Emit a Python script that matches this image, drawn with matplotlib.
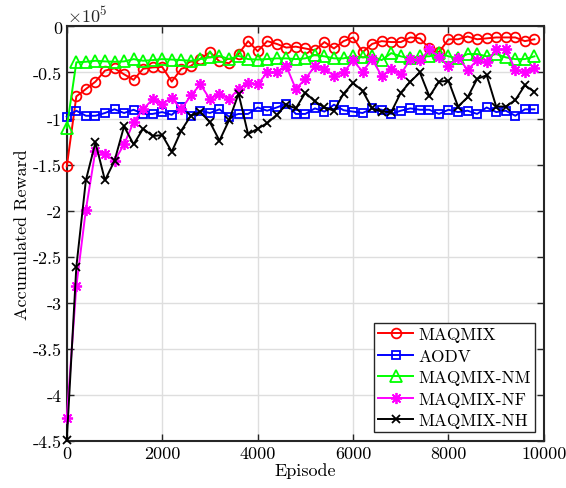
import numpy as np
from matplotlib import pyplot as plt
from matplotlib.ticker import FuncFormatter

plt.rcParams['font.family'] = ['cmr10', 'DejaVu Serif']
plt.rcParams['mathtext.fontset'] = 'cm'
plt.rcParams['axes.unicode_minus'] = False

episodes = np.arange(0, 10000, 200)

# values in units of 1e5
maqmix = [-1.52, -0.76, -0.68, -0.60, -0.48, -0.455, -0.52, -0.58, -0.46, -0.445,
          -0.44, -0.60, -0.46, -0.43, -0.35, -0.28, -0.38, -0.40, -0.30, -0.16,
          -0.27, -0.16, -0.19, -0.23, -0.22, -0.24, -0.26, -0.17, -0.24, -0.16,
          -0.12, -0.28, -0.19, -0.16, -0.17, -0.17, -0.12, -0.13, -0.24, -0.28,
          -0.14, -0.14, -0.11, -0.14, -0.13, -0.12, -0.12, -0.12, -0.16, -0.14]
aodv = [-0.98, -0.915, -0.97, -0.97, -0.94, -0.90, -0.94, -0.905, -0.95, -0.95,
        -0.93, -0.96, -0.87, -0.97, -0.915, -0.94, -0.90, -0.98, -0.95, -0.95,
        -0.88, -0.915, -0.88, -0.84, -0.95, -0.95, -0.89, -0.925, -0.85, -0.91,
        -0.925, -0.94, -0.89, -0.905, -0.95, -0.915, -0.89, -0.905, -0.905, -0.95,
        -0.905, -0.93, -0.915, -0.95, -0.88, -0.93, -0.915, -0.97, -0.90, -0.90]
maqmix_nm = [-1.10, -0.39, -0.384, -0.373, -0.38, -0.384, -0.38, -0.355, -0.373, -0.366,
             -0.355, -0.36, -0.366, -0.373, -0.355, -0.336, -0.32, -0.355, -0.32, -0.355,
             -0.36, -0.355, -0.347, -0.347, -0.355, -0.347, -0.31, -0.325, -0.347, -0.347,
             -0.325, -0.336, -0.325, -0.366, -0.29, -0.325, -0.347, -0.325, -0.325, -0.29,
             -0.325, -0.347, -0.30, -0.30, -0.325, -0.30, -0.336, -0.355, -0.355, -0.325]
maqmix_nf = [-4.245, -2.82, -1.99, -1.35, -1.385, -1.46, -1.28, -1.04, -0.90, -0.79,
             -0.84, -0.78, -0.90, -0.75, -0.63, -0.79, -0.73, -0.79, -0.68, -0.61,
             -0.63, -0.50, -0.50, -0.43, -0.68, -0.57, -0.43, -0.46, -0.535, -0.50,
             -0.37, -0.49, -0.355, -0.54, -0.46, -0.52, -0.355, -0.37, -0.25, -0.33,
             -0.43, -0.34, -0.47, -0.37, -0.39, -0.25, -0.25, -0.47, -0.50, -0.455]
maqmix_nh = [-4.49, -2.61, -1.67, -1.26, -1.67, -1.46, -1.085, -1.28, -1.11, -1.19,
             -1.18, -1.36, -1.13, -0.97, -0.93, -1.04, -1.24, -1.02, -0.73, -1.17,
             -1.11, -1.05, -0.96, -0.85, -0.89, -0.72, -0.815, -0.88, -0.915, -0.73,
             -0.615, -0.70, -0.89, -0.925, -0.93, -0.72, -0.60, -0.50, -0.76, -0.60,
             -0.59, -0.87, -0.77, -0.57, -0.53, -0.87, -0.87, -0.80, -0.64, -0.71]

fig = plt.figure(figsize=(5.66, 4.89), dpi=100)
ax = fig.add_axes([0.118, 0.096, 0.843, 0.848])

series = [(maqmix, '#ff0000', 'o', 'MAQMIX', 7),
          (aodv, '#0000ff', 's', 'AODV', 6),
          (maqmix_nm, '#00ff00', '^', 'MAQMIX-NM', 8),
          (maqmix_nf, '#ff00ff', (8, 2, 0), 'MAQMIX-NF', 8),
          (maqmix_nh, 'k', 'x', 'MAQMIX-NH', 6)]
for vals, c, m, lab, ms in series:
    ax.plot(episodes, vals, color=c, marker=m, markersize=ms, clip_on=False,
            markerfacecolor='none', markeredgewidth=1.3, linewidth=1.4, label=lab)

ax.set_xlim(0, 10000)
ax.set_ylim(-4.5, 0)
ax.set_xticks(np.arange(0, 10001, 2000))
ax.set_yticks(np.arange(-4.5, 0.01, 0.5))
ax.yaxis.set_major_formatter(FuncFormatter(lambda v, p: '%g' % round(v, 2)))
ax.text(0.0, 1.005, r'$\times10^5$', transform=ax.transAxes, fontsize=13,
        ha='left', va='bottom', color='#262626')
ax.grid(True, color='#dedede', linewidth=1.0)
ax.set_axisbelow(True)
ax.tick_params(direction='in', top=True, right=True, labelsize=13, length=5,
               width=1.0, color='#262626')
for s in ax.spines.values():
    s.set_linewidth(1.5)
    s.set_color('#262626')
    s.set_zorder(1)
ax.set_xlabel('Episode', fontsize=13, labelpad=1)
ax.set_ylabel('Accumulated Reward', fontsize=13, labelpad=2)

leg = ax.legend(loc='lower right', fontsize=12.5, fancybox=False, edgecolor='#262626',
                framealpha=1, borderpad=0.25, labelspacing=0.35, handlelength=2.0,
                handletextpad=0.3, borderaxespad=0.5)
leg.get_frame().set_linewidth(1.0)

fig.savefig('out.png', dpi=100)
